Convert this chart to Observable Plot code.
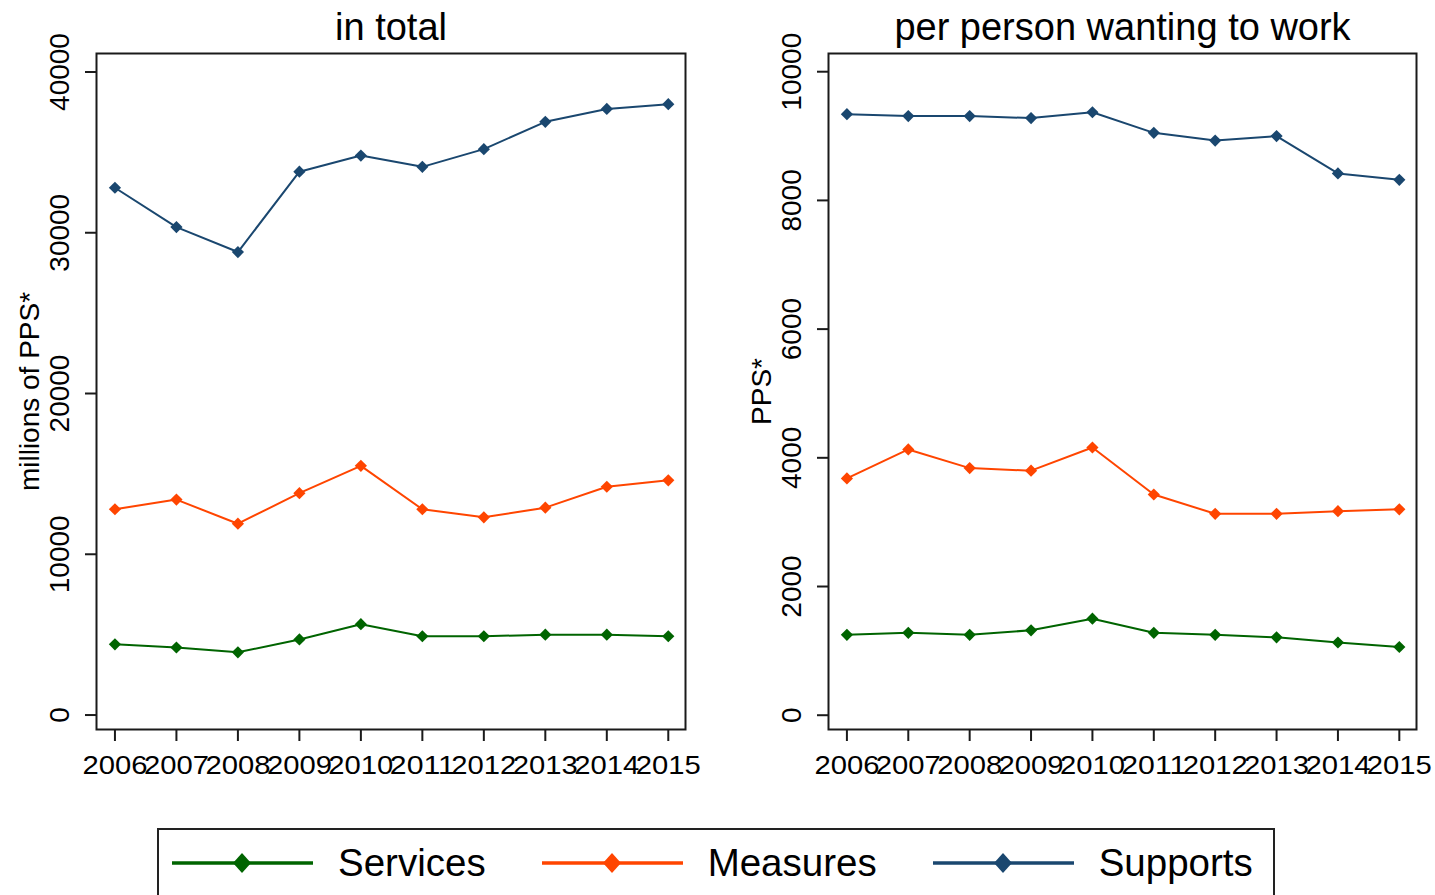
<!DOCTYPE html>
<html>
<head>
<meta charset="utf-8">
<script src="https://cdn.jsdelivr.net/npm/d3@7"></script>
<script src="https://cdn.jsdelivr.net/npm/@observablehq/plot@0.6"></script>
<style>
  html, body { margin: 0; padding: 0; background: #fff; width: 1435px; height: 895px; overflow: hidden; }
  body { position: relative; font-family: "Liberation Sans", Arial, sans-serif; color: #000; }
  #left { position: absolute; left: 0; top: 0; }
  #right { position: absolute; left: 732px; top: 0; }
  #legend { position: absolute; left: 157px; top: 828px; width: 1118px; height: 110px; border: 2px solid #222; box-sizing: border-box; background: #fff; }
  #legend .row { position: absolute; left: 13px; top: 13px; height: 40px; display: flex; align-items: center; }
  #legend .sw { display: block; margin-right: 25px; }
  #legend .lab { font-size: 38.5px; line-height: 40px; margin-right: 56px; white-space: nowrap; }
</style>
</head>
<body>
<div id="left"></div>
<div id="right"></div>
<div id="legend"></div>
<script>
// ---- data ----
const years = [2006, 2007, 2008, 2009, 2010, 2011, 2012, 2013, 2014, 2015];
const seriesNames = ["Services", "Measures", "Supports"];
const seriesColors = ["#006400", "#ff4500", "#1a476f"];

const totalServices = [4400, 4200, 3900, 4700, 5650, 4900, 4900, 5000, 5000, 4900];
const totalMeasures = [12800, 13400, 11900, 13800, 15500, 12800, 12300, 12900, 14200, 14600];
const totalSupports = [32800, 30350, 28800, 33800, 34800, 34100, 35200, 36900, 37700, 38000];

const perServices = [1250, 1280, 1250, 1320, 1500, 1280, 1250, 1210, 1130, 1060];
const perMeasures = [3680, 4130, 3840, 3800, 4160, 3430, 3130, 3130, 3170, 3200];
const perSupports = [9340, 9310, 9310, 9280, 9370, 9050, 8930, 9000, 8420, 8320];

const totalTicks = [0, 10000, 20000, 30000, 40000];
const perTicks = [0, 2000, 4000, 6000, 8000, 10000];

const titles = ["in total", "per person wanting to work"];
const yLabels = ["millions of PPS*", "PPS*"];

// ---- helpers ----
function toRows(arrays) {
  const rows = [];
  seriesNames.forEach((s, i) => {
    years.forEach((y, j) => rows.push({series: s, year: y, value: arrays[i][j]}));
  });
  return rows;
}

const FONT = "'Liberation Sans', Arial, sans-serif";

function panel({rows, ticks, yDomain, title, ylabel, width, marginRight}) {
  const svg = Plot.plot({
    width,
    height: 800,
    marginLeft: 96,
    marginRight,
    marginTop: 53,
    marginBottom: 71,
    style: {fontFamily: FONT, background: "white", color: "#000", overflow: "visible"},
    x: {domain: [2005.7, 2015.28], label: null},
    y: {domain: yDomain, label: null},
    color: {domain: seriesNames, range: seriesColors},
    marks: [
      Plot.frame({stroke: "#1a1a1a", strokeWidth: 2}),
      Plot.axisX({ticks: years, tickSize: 12, tickPadding: 15, tickFormat: d => String(d),
                  fontSize: 25, stroke: "#1a1a1a", strokeWidth: 2, label: null}),
      Plot.axisY({ticks, tickSize: 11, tickFormat: () => "", stroke: "#1a1a1a", strokeWidth: 2, label: null}),
      Plot.text(ticks, {y: d => d, text: d => String(d), frameAnchor: "left", dx: -36, rotate: -90,
                        fontSize: 28, textAnchor: "middle", lineAnchor: "middle", fill: "#000"}),
      Plot.text([ylabel], {text: d => d, frameAnchor: "left", dx: -66, rotate: -90, fontSize: 28,
                           textAnchor: "middle", lineAnchor: "middle", fill: "#000"}),
      Plot.text([title], {text: d => d, frameAnchor: "top", dy: -26, fontSize: 38,
                          textAnchor: "middle", lineAnchor: "middle", fill: "#000"}),
      Plot.line(rows, {x: "year", y: "value", z: "series", stroke: "series", strokeWidth: 2}),
      Plot.dot(rows, {x: "year", y: "value", fill: "series", symbol: "diamond2", r: 5.5})
    ]
  });
  // widen the x tick labels like the reference (they overlap)
  svg.querySelectorAll('[aria-label="x-axis tick label"] text').forEach(t => {
    t.setAttribute("textLength", 65);
    t.setAttribute("lengthAdjust", "spacingAndGlyphs");
    t.style.fontSize = "25px";
  });
  return svg;
}

document.getElementById("left").appendChild(panel({
  rows: toRows([totalServices, totalMeasures, totalSupports]),
  ticks: totalTicks, yDomain: [-900, 41150], title: titles[0], ylabel: yLabels[0],
  width: 717, marginRight: 32
}));

document.getElementById("right").appendChild(panel({
  rows: toRows([perServices, perMeasures, perSupports]),
  ticks: perTicks, yDomain: [-222, 10283], title: titles[1], ylabel: yLabels[1],
  width: 703, marginRight: 19
}));

// ---- legend ----
const legend = document.getElementById("legend");
const row = document.createElement("div");
row.className = "row";
seriesNames.forEach((name, i) => {
  const c = seriesColors[i];
  const sw = document.createElementNS("http://www.w3.org/2000/svg", "svg");
  sw.setAttribute("width", 141);
  sw.setAttribute("height", 40);
  sw.setAttribute("class", "sw");
  sw.innerHTML = `<line x1="0" x2="141" y1="20" y2="20" stroke="${c}" stroke-width="3.5"/>` +
                 `<polygon points="70,10 79,20 70,30 61,20" fill="${c}"/>`;
  row.appendChild(sw);
  const lab = document.createElement("span");
  lab.className = "lab";
  lab.textContent = name;
  row.appendChild(lab);
});
legend.appendChild(row);
</script>
</body>
</html>
